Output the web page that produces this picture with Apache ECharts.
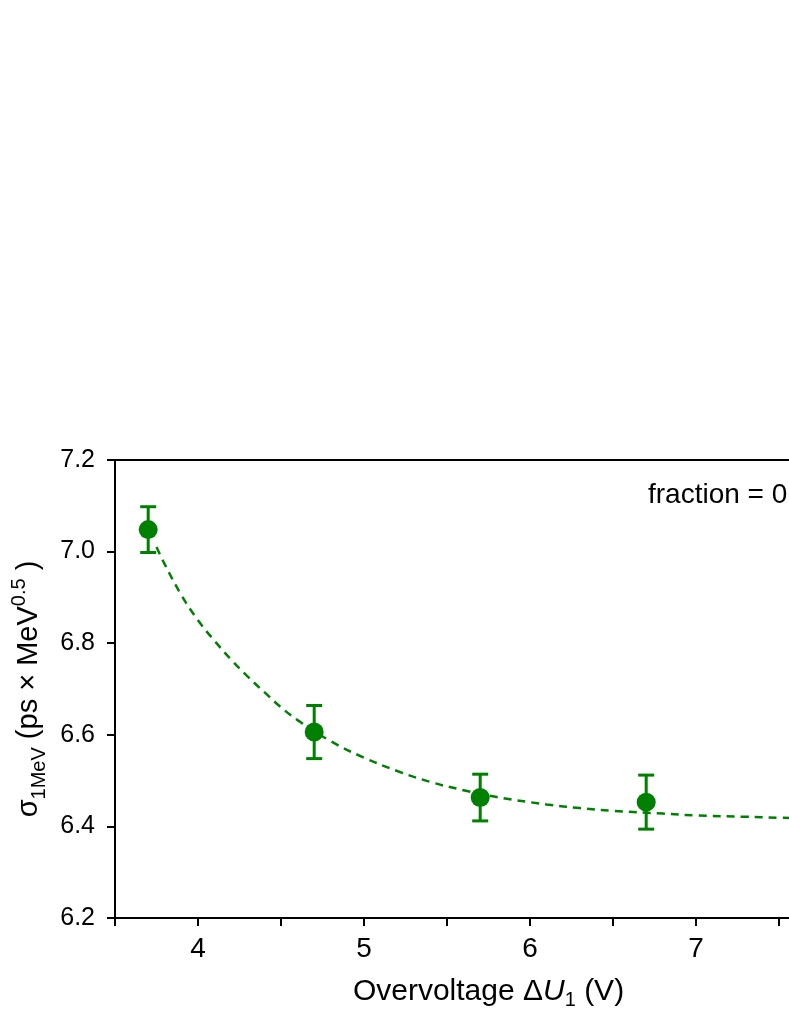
<!DOCTYPE html>
<html>
<head>
<meta charset="utf-8">
<script src="https://cdn.jsdelivr.net/npm/echarts@6/dist/echarts.min.js"></script>
<style>
html, body {
  margin: 0;
  padding: 0;
  background: #fff;
  overflow: hidden;
}
#main {
  width: 900px;
  height: 1021px;
}
</style>
</head>
<body>
<div id="main"></div>
<script>
// measured points (overvoltage in V, sigma in ps*MeV^0.5)
const voltage = [3.7, 4.7, 5.7, 6.7];
const sigma = [7.048, 6.606, 6.463, 6.453];
const sigmaErr = [0.050, 0.058, 0.051, 0.059];

// dashed fit curve
const fitX = [3.75, 3.8, 3.9, 4.0, 4.1, 4.2, 4.3, 4.4, 4.5, 4.6, 4.8, 5.0, 5.2, 5.4, 5.6, 5.8, 6.1, 6.3, 6.5, 6.8, 7.0, 7.3, 7.5, 7.7, 8.0];
const fitY = [7.010, 6.972, 6.905, 6.850, 6.805, 6.764, 6.727, 6.693, 6.660, 6.632, 6.586, 6.550, 6.521, 6.497, 6.479, 6.464, 6.448, 6.440, 6.434, 6.428, 6.424, 6.421, 6.419, 6.418, 6.417];

const yTicks = [6.2, 6.4, 6.6, 6.8, 7.0, 7.2];
const xTicks = [4, 5, 6, 7, 8];

const green = '#008000';
const font = 'Liberation Sans, Arial, sans-serif';

const chart = echarts.init(document.getElementById('main'));

const points = voltage.map((v, i) => [v, sigma[i]]);
const bars = voltage.map((v, i) => [v, sigma[i] - sigmaErr[i], sigma[i] + sigmaErr[i]]);
const fit = fitX.map((v, i) => [v, fitY[i]]);

const axisLine = { show: true, lineStyle: { color: '#000', width: 2 } };

const option = {
  animation: false,
  backgroundColor: '#fff',
  // the plot runs past the right edge of the 789px window, as in the original
  grid: { left: 115, top: 460, bottom: 103, right: 38 },
  xAxis: [
    {
      type: 'value',
      min: 3.5,
      max: 8,
      interval: 0.5,
      position: 'bottom',
      axisLine: axisLine,
      axisTick: { show: true, inside: false, length: 8, lineStyle: { color: '#000', width: 2 } },
      splitLine: { show: false },
      axisLabel: {
        margin: 17,
        fontSize: 28,
        fontFamily: font,
        color: '#000',
        formatter: v => xTicks.indexOf(v) >= 0 ? String(v) : ''
      },
      name: '{n|Overvoltage Δ}{i|U}{sub|1}{n| (V)}',
      nameLocation: 'middle',
      nameGap: 56,
      nameTextStyle: {
        rich: {
          n: { fontSize: 30, fontFamily: font, color: '#000', lineHeight: 36 },
          i: { fontSize: 30, fontFamily: font, color: '#000', fontStyle: 'italic', lineHeight: 36 },
          sub: { fontSize: 20, fontFamily: font, color: '#000', lineHeight: 22, verticalAlign: 'bottom' }
        }
      }
    },
    {
      type: 'value',
      min: 3.5,
      max: 8,
      position: 'top',
      axisLine: axisLine,
      axisTick: { show: false },
      axisLabel: { show: false },
      splitLine: { show: false }
    }
  ],
  yAxis: [
    {
      type: 'value',
      min: 6.2,
      max: 7.2,
      interval: 0.2,
      position: 'left',
      axisLine: axisLine,
      axisTick: { show: true, inside: false, length: 8, lineStyle: { color: '#000', width: 2 } },
      splitLine: { show: false },
      axisLabel: {
        margin: 20,
        fontSize: 25,
        fontFamily: font,
        color: '#000',
        formatter: v => yTicks.some(t => Math.abs(t - v) < 1e-6) ? v.toFixed(1) : ''
      },
      name: '{n|σ}{sub|1MeV}{n| (ps × MeV}{sup|0.5}{n| )}',
      nameLocation: 'middle',
      nameGap: 65,
      nameRotate: 90,
      nameTextStyle: {
        rich: {
          n: { fontSize: 29, fontFamily: font, color: '#000', lineHeight: 40 },
          sub: { fontSize: 20, fontFamily: font, color: '#000', lineHeight: 22, verticalAlign: 'bottom' },
          sup: { fontSize: 20, fontFamily: font, color: '#000', lineHeight: 22, verticalAlign: 'top' }
        }
      }
    },
    {
      type: 'value',
      min: 6.2,
      max: 7.2,
      position: 'right',
      axisLine: axisLine,
      axisTick: { show: false },
      axisLabel: { show: false },
      splitLine: { show: false }
    }
  ],
  graphic: [
    {
      type: 'text',
      left: 648,
      top: 481,
      style: {
        text: 'fraction = 0',
        fontSize: 28,
        fontFamily: font,
        fill: '#000'
      }
    }
  ],
  series: [
    {
      name: 'fit',
      type: 'line',
      data: fit,
      smooth: 0.4,
      showSymbol: false,
      lineStyle: { color: green, width: 2.5, type: [8, 6] },
      z: 2
    },
    {
      name: 'error',
      type: 'custom',
      data: bars,
      renderItem: function (params, api) {
        const x = api.value(0);
        const lo = api.coord([x, api.value(1)]);
        const hi = api.coord([x, api.value(2)]);
        const cap = 8;
        const st = { stroke: green, lineWidth: 3 };
        return {
          type: 'group',
          children: [
            { type: 'line', shape: { x1: lo[0], y1: lo[1], x2: hi[0], y2: hi[1] }, style: st },
            { type: 'line', shape: { x1: lo[0] - cap, y1: lo[1], x2: lo[0] + cap, y2: lo[1] }, style: st },
            { type: 'line', shape: { x1: hi[0] - cap, y1: hi[1], x2: hi[0] + cap, y2: hi[1] }, style: st }
          ]
        };
      },
      z: 3
    },
    {
      name: 'data',
      type: 'scatter',
      data: points,
      symbol: 'circle',
      symbolSize: 19,
      itemStyle: { color: green, opacity: 1 },
      z: 4
    }
  ]
};

chart.setOption(option);
</script>
</body>
</html>
